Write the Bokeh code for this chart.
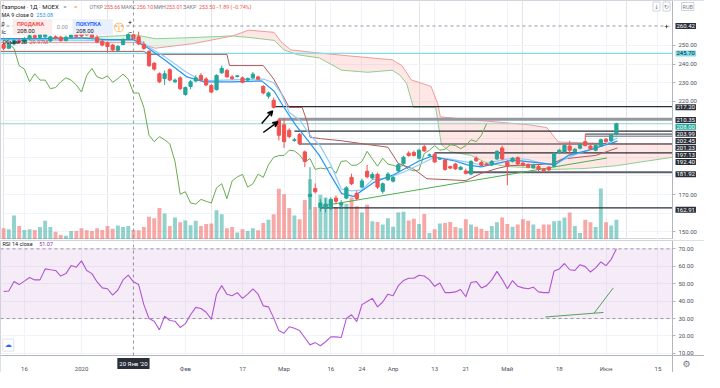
from bokeh.plotting import figure
from bokeh.models import (Range1d, FixedTicker, Span, Label, BoxAnnotation, ColumnDataSource,
                          Arrow, VeeHead, PrintfTickFormatter, Grid)
from bokeh.layouts import column
from bokeh.embed import file_html
from bokeh.resources import INLINE

# ---------------- data ----------------
opens = [250.5, 248.5, 250.8, 252.5, 251.8, 253.6, 255.2, 254.3, 254.6, 252.4,
         254.6, 254.4, 252.6, 254.4, 255.6, 256.2, 256.5, 255.8, 254.2, 252.2,
         251.4, 250.2, 247.4, 250.5, 253.2, 255.66, 254.6, 250.6, 246.8, 240.4,
         234.8, 232.2, 237.0, 230.5, 232.6, 223.7, 228.0, 230.9, 233.9, 232.0,
         228.5, 226.3, 235.3, 236.5, 233.1, 233.3, 232.6, 231.4, 232.6, 233.1,
         228.0, 222.8, 220.6, 210.0, 207.4, 204.5, 199.0, 202.3, 192.9, 169.0,
         173.2, 163.0, 163.0, 163.0, 168.1, 164.4, 168.1, 179.2, 170.7, 174.0,
         182.5, 178.9, 180.8, 171.8, 178.0, 177.2, 182.8, 186.6, 192.2, 192.6,
         189.5, 195.6, 191.1, 191.6, 189.0, 188.6, 185.0, 186.4, 183.5, 182.7,
         181.0, 189.5, 187.3, 186.4, 185.8, 189.1, 195.0, 187.4, 187.8, 189.8,
         186.9, 186.0, 184.4, 185.0, 183.5, 184.7, 185.2, 192.6, 192.9, 196.0,
         193.0, 194.9, 198.4, 196.0, 193.8, 196.0, 199.7, 198.9, 202.3]
highs = [251.5, 251.5, 253.5, 254.0, 254.5, 256.0, 256.4, 256.6, 256.5, 255.3,
         255.4, 255.2, 255.3, 256.4, 256.5, 257.5, 258.6, 256.6, 255.6, 253.0,
         252.0, 250.8, 250.2, 253.8, 256.6, 256.10, 257.4, 252.2, 247.5, 241.2,
         235.5, 236.5, 237.8, 232.2, 233.4, 228.0, 231.4, 234.0, 235.2, 233.0,
         229.2, 234.5, 239.2, 237.4, 234.0, 234.2, 233.3, 232.8, 235.8, 233.8,
         228.7, 225.3, 222.0, 211.0, 210.9, 205.5, 200.4, 203.0, 193.6, 184.7,
         176.0, 167.5, 168.0, 168.5, 169.5, 167.0, 174.5, 181.2, 172.0, 178.5,
         186.0, 182.0, 181.8, 176.5, 182.0, 180.0, 187.0, 190.8, 193.2, 193.6,
         194.6, 196.8, 192.0, 192.5, 189.8, 189.0, 185.5, 187.0, 185.3, 184.0,
         188.4, 190.6, 188.0, 187.2, 188.5, 193.8, 196.2, 188.4, 190.1, 190.4,
         187.4, 186.8, 186.5, 185.8, 184.2, 185.3, 192.8, 194.6, 197.0, 198.9,
         195.0, 197.4, 202.3, 196.8, 196.9, 200.0, 200.3, 202.5, 208.5]
lows = [247.5, 248.0, 250.0, 251.0, 251.0, 253.0, 253.6, 253.8, 253.8, 251.8,
        253.2, 252.0, 252.2, 253.8, 254.0, 254.6, 255.0, 254.2, 251.2, 249.5,
        246.0, 247.0, 246.8, 250.0, 252.8, 253.01, 250.2, 247.6, 238.5, 236.4,
        229.8, 228.8, 230.8, 229.8, 226.0, 223.0, 226.5, 230.2, 230.8, 228.2,
        224.4, 225.8, 234.8, 232.6, 231.4, 232.8, 229.7, 230.8, 232.0, 231.4,
        223.8, 221.5, 216.2, 199.0, 195.0, 200.3, 198.3, 196.5, 184.7, 162.0,
        170.6, 161.0, 160.5, 161.5, 164.8, 162.9, 167.5, 175.0, 166.8, 173.4,
        178.7, 178.0, 173.0, 170.5, 177.3, 176.5, 182.0, 186.0, 190.3, 190.4,
        188.8, 193.0, 190.5, 187.0, 188.5, 182.8, 183.6, 183.2, 183.0, 180.8,
        180.4, 187.5, 185.2, 185.3, 185.3, 188.6, 188.5, 175.0, 187.2, 185.8,
        185.1, 184.1, 183.8, 182.6, 181.9, 182.4, 184.6, 191.8, 192.3, 191.2,
        192.4, 194.3, 195.8, 194.0, 193.2, 195.5, 197.8, 198.3, 201.8]
closes = [248.5, 250.8, 252.5, 251.8, 253.6, 255.2, 254.3, 255.8, 255.9, 254.6,
          254.0, 252.6, 254.4, 255.6, 254.9, 255.0, 255.6, 254.4, 251.8, 250.2,
          249.4, 247.6, 249.5, 253.2, 255.8, 253.50, 250.8, 248.4, 239.1, 237.3,
          230.5, 234.8, 231.4, 231.4, 226.8, 227.4, 230.5, 232.6, 231.4, 228.8,
          225.0, 233.9, 237.7, 233.1, 232.2, 233.7, 230.2, 232.2, 234.6, 231.9,
          224.5, 224.5, 216.8, 201.8, 198.4, 201.1, 199.4, 197.2, 187.8, 170.2,
          171.5, 165.5, 164.9, 167.4, 166.4, 165.5, 173.6, 175.8, 167.8, 177.3,
          179.5, 180.8, 174.0, 175.8, 181.0, 179.2, 186.0, 190.0, 190.9, 191.0,
          193.8, 193.4, 191.3, 187.5, 189.3, 183.5, 184.2, 183.8, 184.7, 181.4,
          187.8, 188.1, 185.7, 185.8, 187.8, 193.2, 189.1, 185.2, 189.5, 186.4,
          185.7, 184.7, 185.7, 183.5, 182.7, 183.2, 192.0, 193.8, 196.3, 193.8,
          194.3, 196.7, 196.3, 194.6, 196.3, 199.4, 198.4, 201.8, 208.0]
volumes_m = [32.2, 29.4, 68.8, 38.5, 27.5, 29.4, 27.5, 35.8, 54.2, 35.8,
             22.0, 12.9, 11.0, 24.8, 24.8, 32.2, 26.7, 24.8, 32.2, 27.5,
             38.5, 31.1, 40.4, 35.8, 38.5, 27.5, 26.7, 35.8, 65.2, 61.3,
             90.8, 75.1, 38.5, 63.3, 49.5, 55.0, 41.3, 54.2, 38.5, 44.8,
             45.9, 84.4, 72.3, 32.2, 35.8, 20.1, 29.4, 24.8, 32.2, 26.7,
             47.6, 56.9, 72.3, 145.8, 130.1, 90.8, 68.8, 58.6, 113.6, 173.3,
             93.5, 128.4, 121.0, 111.9, 93.5, 98.2, 102.6, 121.0, 95.4, 77.8,
             99.8, 52.3, 50.3, 43.2, 61.3, 36.6, 77.8, 79.8, 55.0, 59.7,
             44.8, 73.4, 18.4, 29.4, 45.9, 47.6, 50.3, 35.8, 32.2, 58.6,
             43.2, 36.6, 31.1, 24.8, 38.5, 49.5, 63.3, 44.8, 36.6, 43.2,
             58.6, 54.2, 43.2, 31.1, 43.2, 43.2, 52.3, 54.2, 63.3, 77.8,
             38.5, 18.4, 56.9, 49.5, 35.8, 146.6, 49.5, 40.4, 56.9]
rsi14 = [45.5, 45.8, 51.3, 49.5, 51.5, 53.6, 52.2, 52.2, 58.5, 58.0,
         57.6, 54.4, 55.8, 60.4, 59.5, 63.1, 57.6, 55.8, 51.0, 47.6,
         47.1, 43.5, 46.4, 52.2, 54.9, 51.07, 49.5, 38.0, 30.0, 28.5,
         23.5, 31.3, 28.9, 28.5, 24.9, 27.1, 32.2, 36.4, 35.8, 33.6,
         29.5, 44.0, 48.9, 44.0, 43.1, 44.9, 41.6, 44.0, 47.1, 44.0,
         37.3, 36.7, 30.4, 23.1, 21.6, 25.3, 24.4, 23.1, 19.0, 14.9,
         16.2, 14.4, 16.7, 19.5, 19.5, 19.1, 30.0, 32.2, 28.2, 38.0,
         39.8, 41.6, 36.7, 39.5, 44.0, 43.1, 48.9, 51.8, 53.1, 53.1,
         54.9, 54.4, 52.2, 48.5, 50.4, 44.9, 44.9, 45.3, 46.7, 42.5,
         50.7, 51.3, 47.6, 48.9, 52.2, 57.1, 52.5, 47.1, 51.8, 48.5,
         47.6, 47.1, 48.0, 45.3, 44.9, 44.9, 57.3, 58.5, 61.6, 58.0,
         57.6, 60.9, 59.8, 56.7, 59.1, 62.5, 60.4, 64.0, 70.0]

# indicator lines, read as vertices (bar index, value)
ma9_x = [-0.6, 6.8, 14.3, 19.9, 25.0, 27.3, 31.0, 35.3, 38.5, 44.0, 49.7, 52.1, 54.0, 56.2, 58.4, 60.8, 62.7,
         65.1, 67.4, 71.4, 75.2, 77.6, 80.0, 82.3, 86.9, 89.3, 91.9, 98.1, 103.7, 106.1, 108.7, 112.4, 115.4, 118.2]
ma9_y = [253.6, 253.6, 254.1, 253.1, 253.1, 249.5, 242.3, 233.1, 230.5, 230.5, 231.0, 225.4, 216.7, 207.4, 199.7,
         191.0, 181.8, 170.5, 169.0, 176.7, 180.8, 184.4, 188.0, 190.5, 188.0, 185.9, 184.9, 188.5, 186.9, 185.9,
         191.0, 193.6, 196.2, 198.7]
tenkan_x = [-0.6, 10, 20, 26, 28, 31, 35, 38, 44, 50, 52, 53.5, 55, 57, 59, 61, 63, 65, 67, 69,
            71, 74, 77, 80, 83, 86, 89, 92, 95, 98, 101, 104, 106, 108, 111, 114, 116, 118.2]
tenkan_y = [252.8, 253.0, 252.5, 253.0, 249.0, 244.0, 236.0, 231.0, 231.5, 232.0, 230.0, 224.0, 214.0, 210.0,
            202.0, 196.0, 186.0, 173.0, 172.0, 172.5, 178.0, 179.0, 182.0, 186.0, 190.0, 189.0, 187.5, 186.0,
            188.0, 189.5, 188.8, 186.5, 186.0, 189.0, 192.5, 195.0, 197.0, 200.5]
kijun_x = [-0.6, 27, 28, 43, 43.5, 50, 51, 52, 53.5, 55, 57.5, 58.5, 59, 61, 65, 70, 74, 76, 79, 81.5,
           89, 92, 95, 97.5, 105.5, 107.5, 114, 118.2]
kijun_y = [246.8, 246.8, 245.2, 245.2, 239.2, 239.2, 235.6, 232.0, 224.4, 216.7, 216.7, 208.5, 200.8, 200.0,
           198.9, 196.9, 195.4, 186.7, 183.6, 178.5, 177.5, 181.4, 184.0, 185.5, 186.4, 189.0, 191.0, 195.0]
spanA_x = [-0.6, 10.6, 25.5, 29.2, 35.3, 44.1, 47.8, 52.1, 54.0, 56.6, 60.8, 65.1, 70.1, 74.8, 76.3, 77.6,
           78.9, 83.2, 84.3, 86, 90, 93, 97, 101, 106, 112, 118, 124, 128.8]
spanA_y = [253.1, 253.6, 255.6, 253.6, 254.1, 255.1, 254.1, 252.7, 247.6, 245.0, 243.3, 236.7, 235.6, 236.7,
           234.1, 229.6, 216.8, 216.8, 196.7, 193.0, 191.0, 187.0, 185.0, 184.5, 183.5, 184.0, 185.5, 188.0, 190.0]
spanB_x = [-0.6, 25.5, 29.2, 36.6, 44.1, 47.2, 52.1, 53.4, 55.3, 60.8, 66.4, 74.8, 76.7, 78.5, 82.3, 83.6,
           84.1, 90.6, 101.3, 104.6, 106.8, 118.6, 128.8]
spanB_y = [251.5, 251.5, 248.5, 251.0, 255.1, 258.2, 257.0, 252.0, 247.6, 245.9, 244.4, 242.3, 239.2, 231.5,
           228.0, 218.7, 211.7, 210.0, 207.4, 205.9, 198.2, 197.2, 197.2]
CLOUD_CROSS = 44.1
LAG_SHIFT = 25

# user drawings
level_prices = [217.20, 210.35, 203.99, 202.45, 201.23, 197.13, 192.40, 181.92, 162.91]
level_start = [52, 53, 56, 112, 112, 57, 83, 89, 61]
level_colors = ["#2a2e39", "#9598a1", "#2a2e39", "#2a2e39", "#9598a1", "#2a2e39", "#2a2e39", "#5d606b", "#2a2e39"]
level_widths = [1.2, 3, 1.2, 1, 1.5, 1.2, 1.2, 2, 1.2]
level_label_px = [111.7, 125, 139.3, 147, 154, 161.7, 169, 181.7, 219]
last_price = 208.00
cyan_level = 245.70
cross_price = 260.42
cross_bar = 25
trend_x = [61.5, 116.2]
trend_y = [164.0, 189.6]
arrows = [((49.7, 208.1), (51.8, 214.9)), ((50.0, 203.3), (52.8, 209.0))]
rsi_l1_x, rsi_l1_y = [104.3, 115.5], [30.9, 33.5]
rsi_l2_x, rsi_l2_y = [113.7, 117.4], [33.1, 47.6]

tick_idx = [4, 15, 35, 46, 54, 63, 69, 75, 83, 89, 97, 107, 116, 126]
tick_lbl = ["16", "2020", "Фев", "17", "Мар", "16", "24", "Апр", "13", "21", "Май", "18", "Июн", "15"]
price_grid = [150, 160, 170, 180, 190, 200, 210, 220, 230, 240, 250]
price_ticks = [150, 170, 220, 230, 240, 250]          # the others are covered by level labels
rsi_ticks = [10, 20, 30, 40, 50, 60, 70]

# ---------------- layout constants ----------------
TOTAL_W = 704
AXW = 32                      # price-scale strip width
DATA_PX = TOTAL_W - AXW
PH = 239                      # price pane height
RH = 115                      # rsi pane height (data part)
TAX = 17                      # time-axis strip height
XR0, DATA_END = -0.6, 128.8
XEND = DATA_END + AXW * (DATA_END - XR0) / DATA_PX
YP = (145.9, 274.1)
YR0, YR1 = 8.8, 74.8
YR_LO = YR0 - TAX * (YR1 - YR0) / RH
VOL_TOP = 687.5
SX = DATA_PX / 695.0
SYP = PH / 250.0
SYR = RH / 122.0
FONT = "Roboto"
UP, DN = "#26a69a", "#ef5350"
GRID = "#f0f3fa"
AXC = "#4c525e"
SEP = "#b2b5be"
EM = {".": 0.27, " ": 0.26, "(": 0.34, ")": 0.34, "%": 0.73, "−": 0.57}


def text_w(t, size):
    w = 0.0
    for ch in t:
        if ch in EM:
            w += EM[ch]
        elif ch.isdigit():
            w += 0.56
        elif ch.isupper():
            w += 0.66
        else:
            w += 0.52
    return w * size


def px_price(y):
    return YP[1] - y * (YP[1] - YP[0]) / 250.0


def lab(fig, fh, sy, xr, yr, text, color="#131722", size=6, bold=False, align="left", font=FONT, **kw):
    fig.add_layout(Label(x=xr * SX, y=fh - yr * sy, x_units="screen", y_units="screen", text=text,
                         text_color=color, text_font_size=f"{size}px", text_font=font,
                         text_font_style="bold" if bold else "normal", text_baseline="middle",
                         text_align=align, **kw))


def axlab(fig, yval, text, bg, fg="white"):
    fig.add_layout(Label(x=DATA_END, y=yval, x_units="data", y_units="data", x_offset=3, text=text,
                         text_color=fg, text_font_size="6px", text_font=FONT, text_baseline="middle",
                         background_fill_color=bg, padding=1))


def box(fig, x0, x1, y0, y1, fill, line=None):
    fig.add_layout(BoxAnnotation(left=x0 * SX, right=x1 * SX, top=PH - y0 * SYP, bottom=PH - y1 * SYP,
                                 left_units="screen", right_units="screen", top_units="screen",
                                 bottom_units="screen", fill_color=fill, fill_alpha=1.0,
                                 line_color=line, line_width=1 if line else 0))


def style_yaxis(ax, ticks):
    ax.ticker = FixedTicker(ticks=ticks)
    ax.formatter = PrintfTickFormatter(format="%.2f")
    ax.fixed_location = DATA_END
    ax.major_label_text_font_size = "6px"
    ax.major_label_text_font = FONT
    ax.major_label_text_color = AXC
    ax.major_tick_out = 3
    ax.major_tick_in = 0
    ax.minor_tick_line_color = None
    ax.major_tick_line_color = SEP
    ax.axis_line_color = SEP
    ax.major_label_standoff = 3


# ---------------- price pane ----------------
N = len(closes)
idx = list(range(N))
col = [UP if c >= o else DN for o, c in zip(opens, closes)]
src = ColumnDataSource(dict(x=idx, h=highs, l=lows,
                            top=[max(o, c) for o, c in zip(opens, closes)],
                            bot=[min(o, c) for o, c in zip(opens, closes)],
                            col=col, vol=volumes_m))

p = figure(width=TOTAL_W, height=PH, x_range=Range1d(XR0, XEND), y_range=Range1d(*YP),
           y_axis_location="right", x_axis_location=None, toolbar_location=None, output_backend="svg",
           min_border_left=0, min_border_right=0, min_border_top=0, min_border_bottom=0,
           background_fill_color="white", border_fill_color="white", outline_line_color="#d1d4dc")
p.extra_y_ranges = {"vol": Range1d(0, VOL_TOP)}
p.ygrid.ticker = FixedTicker(ticks=price_grid)
p.ygrid.grid_line_color = GRID
p.add_layout(Grid(dimension=0, ticker=FixedTicker(ticks=tick_idx), grid_line_color=GRID))
p.add_layout(BoxAnnotation(left=DATA_END, fill_color="white", fill_alpha=1, line_alpha=0, level="underlay"))
style_yaxis(p.yaxis[0], price_ticks)

# volume
p.vbar(x="x", width=0.75, top="vol", bottom=0, source=src, y_range_name="vol",
       fill_color="col", fill_alpha=0.5, line_alpha=0)

# cloud fills
ga = [(x, y) for x, y in zip(spanA_x, spanA_y) if x <= CLOUD_CROSS]
gb = [(x, y) for x, y in zip(spanB_x, spanB_y) if x <= CLOUD_CROSS][::-1]
ra = [(x, y) for x, y in zip(spanA_x, spanA_y) if x >= CLOUD_CROSS][::-1]
rb = [(x, y) for x, y in zip(spanB_x, spanB_y) if x >= CLOUD_CROSS]
p.patch([a for a, _ in ga + gb], [b for _, b in ga + gb], fill_color="#43a047", fill_alpha=0.12, line_alpha=0)
p.patch([a for a, _ in rb + ra], [b for _, b in rb + ra], fill_color="#f44336", fill_alpha=0.13, line_alpha=0)
p.line(spanA_x, spanA_y, line_color="#8fcf8f", line_width=1)
p.line(spanB_x, spanB_y, line_color="#ef9a9a", line_width=1)

# horizontal reference lines (ending at the price scale)
p.segment(x0=[XR0, XR0], y0=[cyan_level, last_price], x1=[DATA_END, DATA_END], y1=[cyan_level, last_price],
          line_color=["#80deea", "#8fd6cf"], line_width=1.2)
p.segment(x0=level_start, y0=level_prices, x1=[DATA_END] * len(level_prices), y1=level_prices,
          line_color=level_colors, line_width=level_widths)

# lagging span from closes
p.line([i - LAG_SHIFT for i in idx[LAG_SHIFT:]], closes[LAG_SHIFT:], line_color="#6aab4e", line_width=1)
# base, conversion, MA9
p.line(kijun_x, kijun_y, line_color="#b05a5a", line_width=1)
p.line(tenkan_x, tenkan_y, line_color="#90caf9", line_width=1.2)
p.line(ma9_x, ma9_y, line_color="#2196f3", line_width=1.2)
# trend line
p.line(trend_x, trend_y, line_color="#4caf50", line_width=1)

# candles
p.segment(x0="x", y0="h", x1="x", y1="l", source=src, line_color="col", line_width=1)
p.vbar(x="x", width=0.62, top="top", bottom="bot", source=src, fill_color="col", line_color="col", line_width=1)

for (x0, y0), (x1, y1) in arrows:
    p.add_layout(Arrow(x_start=x0, y_start=y0, x_end=x1, y_end=y1, line_color="black", line_width=1.5,
                       end=VeeHead(size=5, line_color="black", fill_color="black", line_width=1.5)))

# crosshair
p.add_layout(Span(location=cross_bar, dimension="height", line_color="#9598a1", line_dash="3 3", line_width=1))
p.segment(x0=[XR0], y0=[cross_price], x1=[DATA_END], y1=[cross_price], line_color="#9598a1",
          line_dash="3 3", line_width=1)
p.add_layout(Label(x=DATA_END, y=cross_price, x_units="data", y_units="data", x_offset=-6, text="+",
                   text_color="#131722", text_font_size="8px", text_font=FONT, text_align="center",
                   text_baseline="middle", background_fill_color="white"))

# price-scale labels of levels
for pr, ypx in zip(level_prices, level_label_px):
    axlab(p, px_price(ypx), f"{pr:.2f}", "#2a2e39")
axlab(p, px_price(132), f"{last_price:.2f}", "#26a69a")
axlab(p, cyan_level, f"{cyan_level:.2f}", "#80deea", fg="#131722")
axlab(p, cross_price, f"{cross_price:.2f}", "#2a2e39")
p.add_layout(Label(x=DATA_END, y=PH - 6, x_units="data", y_units="screen", x_offset=9, text="RUB",
                   text_color="#787b86", text_font_size="5.5px", text_font=FONT, text_baseline="middle",
                   border_line_color="#d1d4dc", background_fill_color="white", padding=1))
for k, ic in enumerate(["↓", "↻"]):
    p.add_layout(Label(x=DATA_END, y=PH - 6, x_units="data", y_units="screen", x_offset=-16 + 10 * k,
                       text=ic, text_color="#787b86", text_font_size="6px", text_font="DejaVu Sans",
                       text_align="center", text_baseline="middle", border_line_color="#d1d4dc",
                       background_fill_color="white", padding=1))

# legend texts
lab(p, PH, SYP, 1, 6.5, "Газпром · 1Д · MOEX", "#131722", 6)
lab(p, PH, SYP, 65, 6.5, "=", "#787b86", 6)
lab(p, PH, SYP, 76, 6.5, "≡", "#ff9800", 6)
seg = [("ОТКР", "#787b86"), ("255.66", DN), (" МАКС", "#787b86"), ("256.10", DN),
       (" МИН", "#787b86"), ("253.01", DN), (" ЗАКР", "#787b86"), ("253.50", DN),
       (" −1.89 (−0.74%)", DN)]
HS = 5.3
xpos = 92.0
for t, c in seg:
    lab(p, PH, SYP, xpos, 6.5, t, c, HS)
    xpos += text_w(t, HS) / SX + 0.6
lab(p, PH, SYP, 1, 15.5, "MA 9 close 0", "#131722", 5.5)
lab(p, PH, SYP, 37, 15.5, "253.08", "#2196f3", 5.5)

# order panel
box(p, 13, 53, 20, 35.5, "#fdecec", "#e0e3eb")
box(p, 53, 75, 20, 35.5, "#ffffff", "#e0e3eb")
box(p, 75, 116, 20, 35.5, "#e8f0fe", "#e0e3eb")
lab(p, PH, SYP, 17, 24.5, "ПРОДАЖА", "#ef5350", 5.3, bold=True)
lab(p, PH, SYP, 17, 31.5, "208.00", "#131722", 5.8)
lab(p, PH, SYP, 64, 28, "0.00", "#9598a1", 5.8, align="center")
lab(p, PH, SYP, 78, 24.5, "ПОКУПКА", "#2962ff", 5.3, bold=True)
lab(p, PH, SYP, 78, 31.5, "208.00", "#131722", 5.8)
lab(p, PH, SYP, 123, 28, "ⓘ", "#ff9800", 10, align="center", font="DejaVu Sans")
lab(p, PH, SYP, 134, 23, "+", "#131722", 7, align="center")
lab(p, PH, SYP, 134, 33, "−", "#131722", 7, align="center")
lab(p, PH, SYP, 1, 25, "0", "#131722", 5.5)
lab(p, PH, SYP, 1, 32.5, "Ic", "#131722", 5.5)
lab(p, PH, SYP, 2, 43, "Объём 20", "#131722", 5.5)
lab(p, PH, SYP, 30, 43, "29.97M", "#c0504d", 5.5)

# ---------------- RSI pane ----------------
RFH = RH + TAX
r = figure(width=TOTAL_W, height=RFH + 1, x_range=p.x_range, y_range=Range1d(YR_LO, YR1),
           y_axis_location="right", x_axis_location="below", toolbar_location=None, output_backend="svg",
           min_border_left=0, min_border_right=0, min_border_top=1, min_border_bottom=0,
           background_fill_color="white", border_fill_color="white", outline_line_color="#d1d4dc")
r.ygrid.ticker = FixedTicker(ticks=rsi_ticks)
r.ygrid.grid_line_color = GRID
r.xgrid.ticker = FixedTicker(ticks=tick_idx)
r.xgrid.grid_line_color = GRID
r.add_layout(BoxAnnotation(left=DATA_END, fill_color="white", fill_alpha=1, line_alpha=0, level="underlay"))
r.add_layout(BoxAnnotation(top=YR0, fill_color="white", fill_alpha=1, line_alpha=0, level="underlay"))
style_yaxis(r.yaxis[0], rsi_ticks)
rx = r.xaxis[0]
rx.fixed_location = YR0
rx.ticker = FixedTicker(ticks=tick_idx)
rx.major_label_overrides = {k: v for k, v in zip(tick_idx, tick_lbl)}
rx.major_label_text_font_size = "6px"
rx.major_label_text_font = FONT
rx.major_label_text_color = AXC
rx.major_tick_line_color = None
rx.minor_tick_line_color = None
rx.axis_line_color = SEP
rx.major_label_standoff = 3

r.add_layout(BoxAnnotation(bottom=30, top=70, right=DATA_END, fill_color="#9c27b0", fill_alpha=0.09,
                           line_alpha=0))
r.segment(x0=[XR0, XR0], y0=[70, 30], x1=[DATA_END, DATA_END], y1=[70, 30], line_color="#9598a1",
          line_dash="3 3", line_width=1)
r.line(idx, rsi14, line_color="#b35ad8", line_width=1.1)
r.line(rsi_l1_x, rsi_l1_y, line_color="#4caf50", line_width=1)
r.line(rsi_l2_x, rsi_l2_y, line_color="#4caf50", line_width=1)
r.segment(x0=[cross_bar], y0=[YR0], x1=[cross_bar], y1=[YR1], line_color="#9598a1", line_dash="3 3",
          line_width=1)
r.add_layout(Label(x=cross_bar, y=YR0, x_units="data", y_units="data", y_offset=-8, text="20 Янв '20",
                   text_color="white", text_font_size="6px", text_font=FONT, text_align="center",
                   text_baseline="middle", background_fill_color="#2a2e39", padding=2))
r.add_layout(Label(x=DATA_END, y=YR0, x_units="data", y_units="data", x_offset=14, y_offset=-8, text="⚙",
                   text_color="#787b86", text_font_size="9px", text_font="DejaVu Sans", text_align="center",
                   text_baseline="middle"))
lab(r, RFH, SYR, 2, 4, "RSI 14 close", "#131722", 5.5)
lab(r, RFH, SYR, 40, 4, "51.07", "#9c27b0", 5.5)
lab(r, RFH, SYR, 8, 111, "☁", "#2962ff", 7, align="center", font="DejaVu Sans",
    background_fill_color="white", border_line_color="#e0e3eb", padding=2)

layout = column(p, r, spacing=0)
open("out.html", "w").write(file_html(layout, INLINE))
